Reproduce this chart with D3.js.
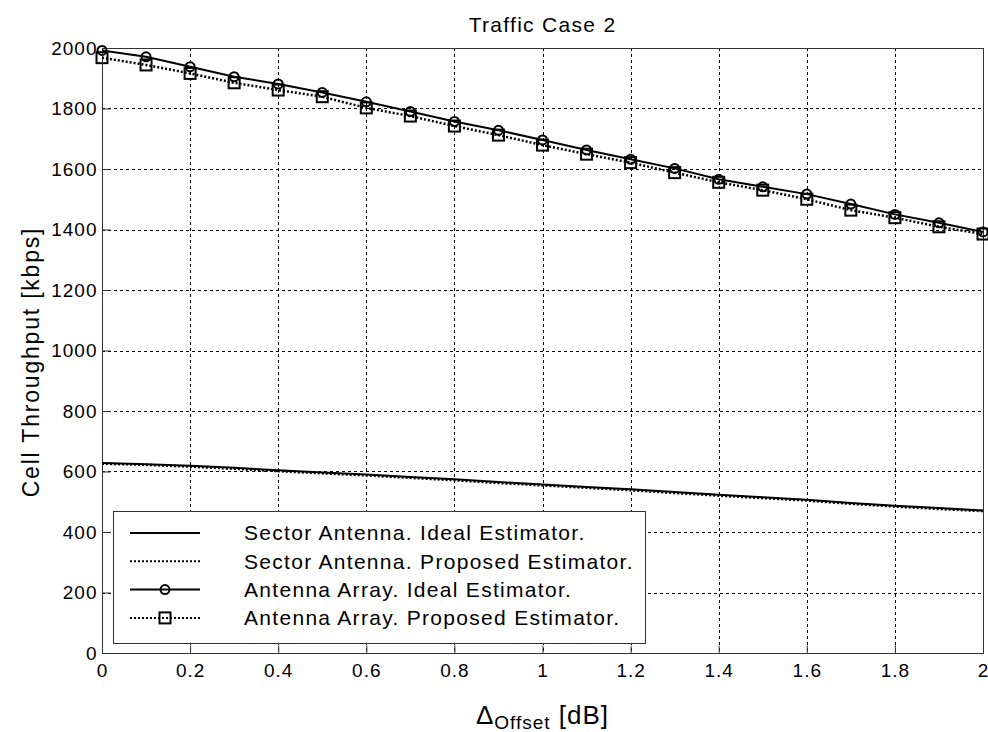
<!DOCTYPE html>
<html>
<head>
<meta charset="utf-8">
<script src="https://cdn.jsdelivr.net/npm/d3@7"></script>
<style>
body { margin: 0; background: #fff; }
svg { display: block; font-family: "Liberation Sans", Arial, sans-serif; }
</style>
</head>
<body>
<svg width="988" height="732"></svg>
<script>
// offset values [dB]
var offsets = [0, 0.1, 0.2, 0.3, 0.4, 0.5, 0.6, 0.7, 0.8, 0.9, 1.0,
    1.1, 1.2, 1.3, 1.4, 1.5, 1.6, 1.7, 1.8, 1.9, 2.0];

// cell throughput [kbps]
var sectorIdeal = [628, 624, 619, 612, 604, 597, 590, 582, 574, 565, 557,
    549, 541, 532, 523, 515, 507, 496, 487, 479, 471];
var sectorProposed = [626, 622, 616, 609, 601, 594, 587, 579, 571, 562, 554,
    546, 538, 529, 520, 512, 504, 493, 484, 476, 469];
var arrayIdeal = [1992, 1971, 1938, 1905, 1881, 1853, 1822, 1790, 1757, 1728, 1696,
    1663, 1632, 1602, 1566, 1541, 1517, 1484, 1450, 1422, 1392];
var arrayProposed = [1968, 1944, 1916, 1885, 1861, 1839, 1802, 1775, 1742, 1712, 1679,
    1649, 1621, 1588, 1556, 1530, 1500, 1464, 1439, 1409, 1385];

var xTicks = [0, 0.2, 0.4, 0.6, 0.8, 1, 1.2, 1.4, 1.6, 1.8, 2];
var yTicks = [0, 200, 400, 600, 800, 1000, 1200, 1400, 1600, 1800, 2000];

var series = [
    {name: "Sector Antenna. Ideal Estimator.", values: sectorIdeal, dash: null, marker: null},
    {name: "Sector Antenna. Proposed Estimator.", values: sectorProposed, dash: "2,2", marker: null},
    {name: "Antenna Array. Ideal Estimator.", values: arrayIdeal, dash: null, marker: "circle"},
    {name: "Antenna Array. Proposed Estimator.", values: arrayProposed, dash: "2,2", marker: "square"}
];

var plotL = 102, plotR = 983, plotT = 48, plotB = 653;

var svg = d3.select("svg");

var x = d3.scaleLinear().domain([0, 2]).range([plotL, plotR]);
var y = d3.scaleLinear().domain([0, 2000]).range([plotB, plotT]);

// grid
var grid = svg.append("g").attr("class", "grid");
grid.selectAll("line.gx")
    .data(xTicks.slice(1, -1))
    .enter().append("line")
    .attr("x1", function (d) { return Math.round(x(d)) + 0.5 })
    .attr("x2", function (d) { return Math.round(x(d)) + 0.5 })
    .attr("y1", plotT)
    .attr("y2", plotB)
    .attr("stroke", "#000")
    .attr("stroke-dasharray", "3,3");
grid.selectAll("line.gy")
    .data(yTicks.slice(1, -1))
    .enter().append("line")
    .attr("y1", function (d) { return Math.round(y(d)) + 0.5 })
    .attr("y2", function (d) { return Math.round(y(d)) + 0.5 })
    .attr("x1", plotL)
    .attr("x2", plotR)
    .attr("stroke", "#000")
    .attr("stroke-dasharray", "3,3");

// axes
var xAxis = d3.axisBottom(x).tickValues(xTicks).tickSizeInner(-8).tickSizeOuter(0)
    .tickPadding(10).tickFormat(d3.format("~g"));
var yAxis = d3.axisLeft(y).tickValues(yTicks).tickSizeInner(-8).tickSizeOuter(0)
    .tickPadding(5).tickFormat(d3.format("d"));

var gx = svg.append("g").attr("transform", "translate(0," + (plotB + 0.5) + ")").call(xAxis);
var gy = svg.append("g").attr("transform", "translate(" + (plotL + 0.5) + ",0)").call(yAxis);
[gx, gy].forEach(function (g) {
    g.select(".domain").remove();
    g.selectAll("line").attr("stroke", "#333");
    g.selectAll("text").attr("font-size", 19).attr("fill", "#000")
        .attr("letter-spacing", 1)
        .attr("font-family", "Liberation Sans, Arial, sans-serif");
});
gx.selectAll("text").attr("dy", "0.71em");

// box
svg.append("rect")
    .attr("x", plotL + 0.5).attr("y", plotT + 0.5)
    .attr("width", plotR - plotL).attr("height", plotB - plotT)
    .attr("fill", "none").attr("stroke", "#333").attr("stroke-width", 1);

// lines
var line = d3.line()
    .x(function (d, i) { return x(offsets[i]) })
    .y(function (d) { return y(d) });

var lines = svg.append("g").attr("class", "lines");
series.forEach(function (s) {
    lines.append("path")
        .datum(s.values)
        .attr("d", line)
        .attr("fill", "none")
        .attr("stroke", "#000")
        .attr("stroke-width", s.dash ? 2.5 : 2)
        .attr("stroke-dasharray", s.dash);
});

function drawMarker(g, type, cx, cy) {
    if (type == "circle") {
        g.append("circle").attr("cx", cx).attr("cy", cy).attr("r", 4.5)
            .attr("fill", "none").attr("stroke", "#000").attr("stroke-width", 2);
    } else if (type == "square") {
        g.append("rect").attr("x", cx - 5.5).attr("y", cy - 5.5)
            .attr("width", 11).attr("height", 11)
            .attr("fill", "none").attr("stroke", "#000").attr("stroke-width", 2);
    }
}

var markers = svg.append("g").attr("class", "markers");
series.forEach(function (s) {
    if (!s.marker) return;
    s.values.forEach(function (v, i) {
        drawMarker(markers, s.marker, x(offsets[i]), y(v));
    });
});

// legend
var lgX = 113, lgY = 511, lgW = 532, lgH = 132, rowH = 28.3;
var legend = svg.append("g").attr("class", "legend");
legend.append("rect")
    .attr("x", lgX + 0.5).attr("y", lgY + 0.5)
    .attr("width", lgW).attr("height", lgH)
    .attr("fill", "#fff").attr("stroke", "#333");
series.forEach(function (s, i) {
    var ly = 533 + i * rowH;
    legend.append("line")
        .attr("x1", 130).attr("x2", 200)
        .attr("y1", ly).attr("y2", ly)
        .attr("stroke", "#000")
        .attr("stroke-width", 2)
        .attr("stroke-dasharray", s.dash);
    if (s.marker) drawMarker(legend, s.marker, 165, ly);
    legend.append("text")
        .attr("x", 244).attr("y", ly)
        .attr("dy", ".35em")
        .attr("font-size", 21)
        .attr("letter-spacing", 1.3)
        .text(s.name);
});

// title and labels
svg.append("text")
    .attr("x", (plotL + plotR) / 2).attr("y", 32)
    .attr("text-anchor", "middle")
    .attr("font-size", 21)
    .attr("letter-spacing", 1.3)
    .text("Traffic Case 2");

svg.append("text")
    .attr("transform", "translate(39,362) rotate(-90)")
    .attr("text-anchor", "middle")
    .attr("font-size", 23)
    .attr("letter-spacing", 1.8)
    .text("Cell Throughput [kbps]");

var xl = svg.append("text")
    .attr("x", (plotL + plotR) / 2).attr("y", 724)
    .attr("text-anchor", "middle")
    .attr("font-size", 26)
    .attr("letter-spacing", 1);
xl.append("tspan").text("Δ");
xl.append("tspan").attr("font-size", 19).attr("dy", 5).text("Offset");
xl.append("tspan").attr("dy", -5).text(" [dB]");
</script>
</body>
</html>
